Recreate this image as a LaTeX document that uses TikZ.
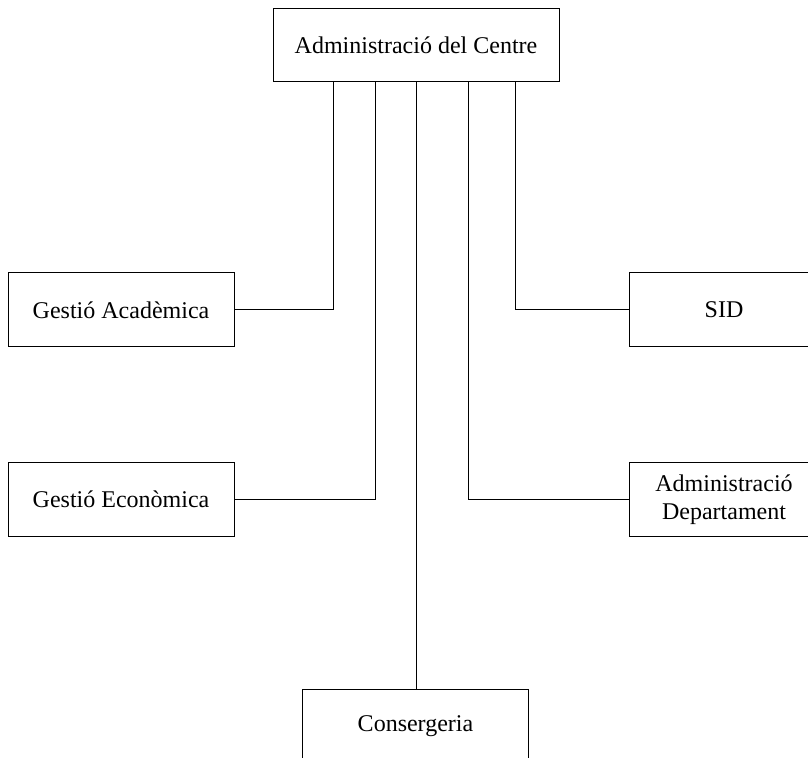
\documentclass[tikz,border=0pt]{standalone}
\usepackage{fontspec}
\setmainfont{Liberation Serif}
\begin{document}
\begin{tikzpicture}[y=0.5pt, x=0.5pt, yscale=-1, inner sep=0pt, outer sep=0pt,
  unit/.style={draw=black, line width=0.5pt, fill=white, align=center,
    font=\fontsize{12}{14}\selectfont, minimum width=113pt, minimum height=37pt},
  link/.style={draw=black, line width=0.5pt}]
  \clip (0,0) rectangle (808,758);
  \node[unit, minimum width=143pt, minimum height=36.5pt] (centre) at (416,45.5)
    {Administració del Centre};
  \node[unit] (academica) at (121,310) {Gestió Acadèmica};
  \node[unit] (economica) at (121,499.5) {Gestió Econòmica};
  \node[unit, minimum width=95pt] (sid) at (724,310) {SID};
  \node[unit, minimum width=95pt] (departament) at (724,499.5) {Administració\\Departament};
  \node[unit] (consergeria) at (415.5,726) {Consergeria};
  \path[link] (academica.east) -| ([xshift=-41.5pt]centre.south);
  \path[link] (economica.east) -| ([xshift=-20.5pt]centre.south);
  \path[link] (centre.south) -- (centre.south |- consergeria.north);
  \path[link] (departament.west) -| ([xshift=26pt]centre.south);
  \path[link] (sid.west) -| ([xshift=49.5pt]centre.south);
\end{tikzpicture}
\end{document}
